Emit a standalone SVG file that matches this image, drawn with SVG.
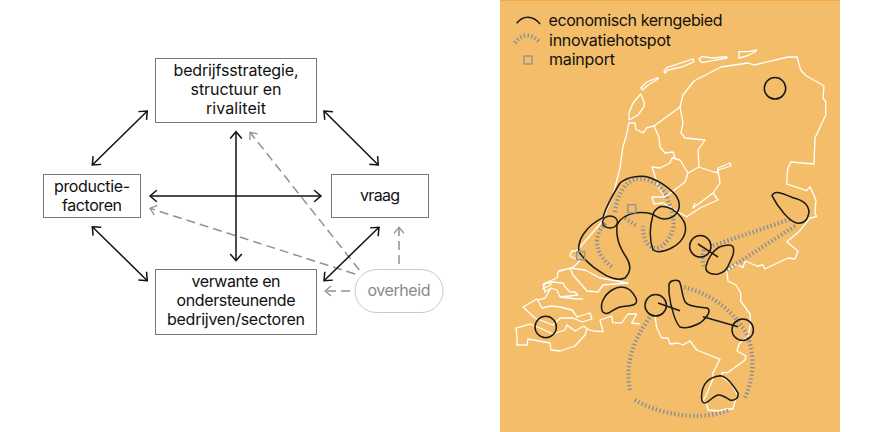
<svg xmlns="http://www.w3.org/2000/svg" width="877" height="432" viewBox="0 0 877 432">
<style>
text{font-family:"Inter","Liberation Sans",sans-serif;font-size:16px;fill:#111;text-anchor:middle}
.box{fill:#fff;stroke:#777;stroke-width:1}
.con{fill:none;stroke:#111;stroke-width:1.5;marker-start:url(#ah);marker-end:url(#ah)}
.gov{fill:none;stroke:#919191;stroke-width:1.5;stroke-dasharray:9 5;marker-end:url(#ag)}
.leg{text-anchor:start}
.b{fill:none;stroke:#fff;stroke-width:1.3;stroke-linejoin:round}
.k{fill:none;stroke:#1a1a1a;stroke-width:1.5}
.h{fill:none;stroke:#8a8e98;stroke-width:4.2;stroke-dasharray:1.4 2.4}
.m{fill:none;stroke:#9c968c;stroke-width:1.5}
</style>
<defs>
<marker id="ah" markerUnits="userSpaceOnUse" markerWidth="16" markerHeight="16" refX="10" refY="8" orient="auto-start-reverse" overflow="visible"><path d="M3.2 2.2L10 8L3.2 13.8" fill="none" stroke="#111" stroke-width="1.5"/></marker>
<marker id="ag" markerUnits="userSpaceOnUse" markerWidth="16" markerHeight="16" refX="10" refY="8" orient="auto" overflow="visible"><path d="M4 3L10 8L4 13" fill="none" stroke="#919191" stroke-width="1.3"/></marker>
</defs>
<rect width="877" height="432" fill="#fff"/>
<g id="connectors">
<path class="gov" d="M359.3 270L250 132.3"/>
<path class="gov" d="M355 274L150 208.3"/>
<path class="gov" d="M350 291H325"/>
<path class="gov" d="M399 264V227.3"/>
<path class="con" d="M92.3 165L147.3 111"/>
<path class="con" d="M324 111L378.3 165"/>
<path class="con" d="M236 131.7V260.7"/>
<path class="con" d="M150 196H321"/>
<path class="con" d="M92.3 226.7L147.3 280.7"/>
<path class="con" d="M324 280.7L379 227.3"/>
</g>
<g id="node-bedrijfsstrategie"><rect class="box" x="155.5" y="58.5" width="161" height="64"/><text x="236" y="76" textLength="125">bedrijfsstrategie,</text><text x="236" y="95" textLength="91">structuur en</text><text x="236" y="114" textLength="60">rivaliteit</text></g>
<g id="node-productiefactoren"><rect class="box" x="43.5" y="174.5" width="97" height="43"/><text x="92" y="191.5" textLength="76">productie-</text><text x="92" y="210.5" textLength="60">factoren</text></g>
<g id="node-vraag"><rect class="box" x="331.5" y="174.5" width="97" height="43"/><text x="380" y="201" textLength="40">vraag</text></g>
<g id="node-verwante"><rect class="box" x="155.5" y="269.5" width="161" height="65"/><text x="236" y="287" textLength="89">verwante en</text><text x="236" y="306" textLength="119">ondersteunende</text><text x="236" y="325" textLength="138">bedrijven/sectoren</text></g>
<g id="node-overheid"><rect x="355" y="269.5" width="88" height="43" rx="21.5" fill="#fff" stroke="#c9c9c9"/><text x="399" y="296" textLength="63" style="fill:#8a8a8a">overheid</text></g>
<g id="map">
<rect x="500" y="0" width="340" height="432" fill="#f4bd69"/>
<rect x="500" y="0" width="340" height="1" fill="#f5a93f"/>
<g id="borders">
<path class="b" d="M576.7 251L601.7 222L613 195L620 168L622.7 148L627 133L628.7 123L635 123L635.7 129L643 133L647 127.7L654 126L680 107L683 95L694 81L721 67L748 63L754 65L788 57L797 57L800.7 70L806 75.7L824 85.7L823 98L825.7 101.7L825.7 115L815 138L814 164L790.7 162L787.7 169L786.7 184L806.7 190.7L810 186.7L816 200L815 213L816.7 216.7L810 218L799 231.7L786.7 241.7L798 251L795 259L788 258L765 269L763 265L757 266L745 261L743 267.7L736.7 264L726.7 271L728 281L736 285L740.7 293L740.7 301L750 314L750.7 324L748 336L739 344L737 351L746 356L745 360L730 371L727.7 372.7L721.7 372.7L722.7 377.7L731.7 384L738 396L735 401L733 409L726.7 409L718 411L708 410L706.7 404L703 401L706.7 394L713 379L713 372.7L720 359.3L696.7 350L690 341L683 345L678 343L670 344L668 338L661.7 338L656.7 327.7L655 316"/>
<path class="b" d="M640 324L631.7 323L636.7 314L628 314L621.7 323L612.7 322.7L611.7 316L600 320L603 331.7L594 331L587 329"/>
<path class="b" d="M516 328L517 338L517 345L527 345L528 339L550 343L551 350L560 351L575 346L585 335L587 329L584 326L575 331L567 325L565 330L553 334L540 328L530 324Z"/>
<path class="b" d="M523 307L537 299L542 308L551 306L560 307L572 310L577 317L590 313L592 319L582 322L573 318L560 318L553 325L535 318Z"/>
<path class="b" d="M538 300L545 298L551 288L557 290L560 297L577 299L583 299M543 284L553 282L563 283L565 287L570 292L575 292L578 295L560 297M543 284L545 292L551 288M558 272L570 268L573 275L587 291L598 292L603 285L628 283L600 278L585 270L570 268M558 272L557 278L545 283L543 289L552 284M576.7 251L571.7 251L570 256L580 261L572 268L558 271"/>
<path class="b" d="M654 126L659 137L660 147L665 153L673 152L675 157L672 158L670 163L660 168L652 167L657 182L658 187L665 197L652 197L654 204L663 203L686.7 216.7L700 208L718 200L713 193L720 183L718 170L731 166L730 163L718 168L717 173L701.7 168L699 167L688 173L685 182L665 197"/>
<path class="b" d="M672 158L680 160L688 173M680 107L683 123L681 133L685 138L705 140L698 150L699 167M695 203L693 208L713 193"/>
<path class="b" d="M640.7 94L644 101.7L644 106.7L638 115L629 120L629 113L633 103Z"/>
<path class="b" d="M640.7 88L646.7 82L658 77.7L658 79L648 85L642.7 90Z"/>
<path class="b" d="M664 71.7L666.7 67.7L693 59L694 61.7L683 66.7L668 70L665 73Z"/>
<path class="b" d="M699 59L701.7 56.7L713 58L726.7 56.7L727 58L713 60.7L701.7 62.7Z"/>
<path class="b" d="M739 51.7L748 51.7L756.7 50L755 52L746.7 56L739 58Z"/>
</g>
<g id="hotspots">
<path class="h" d="M611.7 266.7C603 260 597 252 597 240C598 232 602 227 607 222"/>
<path class="h" d="M615 212C617 196 624 182 636 179C652 178 664 186 668 200C672 210 675 220 673 229C670 240 662 248 656 248C648 248 643 240 643 226"/>
<path class="h" d="M625 218L636.7 226"/>
<path class="h" d="M713 245.7L790 219.3"/>
<path class="h" d="M726.7 270L796.7 225"/>
<path class="h" d="M704 250C702 255 702 260 704 266"/>
<path class="h" d="M630 390C625 365 632 340 653 313"/>
<path class="h" d="M635 400C655 412 695 423 730 410"/>
<path class="h" d="M745 397.7C755 375 755 350 745 331C730 308 710 293 681.7 286.7"/>
<path class="h" d="M515 43C522 33 532 33 540 43"/>
</g>
<g id="regions">
<path class="k" d="M603 217.7C606 206 612 196 620 183C628 176 642 175 650 177.7C660 181 672 190 676.7 196.7C681 204 680 212 673 216.7C666 220 660 219 656.7 216.7C652 213 644 212 636.7 212.7C628 214 620 218 617 225C616 236 618 245 626.7 258C631 265 631 272 625 278C618 281 608 278 600 271.7C592 267 583 258 579 252C577 240 586 226 603 217.7Z"/>
<ellipse class="k" cx="610" cy="222" rx="7.5" ry="6"/>
<path class="k" d="M660 206.7C655 209 653 213 653 215C650 225 649 238 653 250C658 254 672 250 680 241.7C686 235 688 226 681.7 218C677 211 668 205 660 206.7Z"/>
<path class="k" d="M772 195.7C774 191 778 191 793 197.7C802 200 808 203 809 211.7C808 220 804 224 796.7 223C790 222 778 208 772 195.7Z"/>
<circle class="k" cx="775" cy="88.3" r="10.7"/>
<circle class="k" cx="700.3" cy="246.3" r="10.7"/>
<path class="k" d="M698 244L718 257"/>
<path class="k" d="M733 246.7C731 244 725 245 720 246.7C713 250 707 260 706 266.7C705 272 710 275 718 274C723 273 727 270 729 264C732 258 735 252 733 246.7Z"/>
<circle class="k" cx="655.7" cy="305.3" r="10.7"/>
<path class="k" d="M658 303L680 310.7"/>
<path class="k" d="M669 285C669 281 675 279 679 281C682 285 681 293 685 301.7C688 306 696 307 707 308C711 310 709 316 700 323C692 327 685 329 680 327C676 323 671 310 669 293Z"/>
<path class="k" d="M703 316.7L738 326.7"/>
<circle class="k" cx="742.7" cy="329.7" r="10.7"/>
<path class="k" d="M701.7 395C702 385 708 377 720 375.7C727 376 735 388 738 393C739 398 735 401 730 400C726 398 722 394 718 395C713 396 708 403 705 403C702 403 701 399 701.7 395Z"/>
<path class="k" d="M602 310C600 304 604 295 612 290C620 285 626 287 630 290C634 294 638 300 636 303C633 307 627 305 620 307C613 309 611 313 606.7 313.5C603 313 602 312 602 310Z"/>
<circle class="k" cx="545.7" cy="327" r="10.7"/>
<path class="k" d="M516.7 23.3C523 15 533 15 540 24"/>
</g>
<rect class="m" x="627.7" y="204.7" width="8" height="8"/>
<rect class="m" x="576.7" y="251.7" width="8" height="8"/>
<rect class="m" x="524" y="56" width="8" height="8"/>
<g id="legend">
<text class="leg" x="548.5" y="26" textLength="174">economisch kerngebied</text>
<text class="leg" x="549" y="46" textLength="122">innovatiehotspot</text>
<text class="leg" x="549" y="65" textLength="66">mainport</text>
</g>
</g>
</svg>
